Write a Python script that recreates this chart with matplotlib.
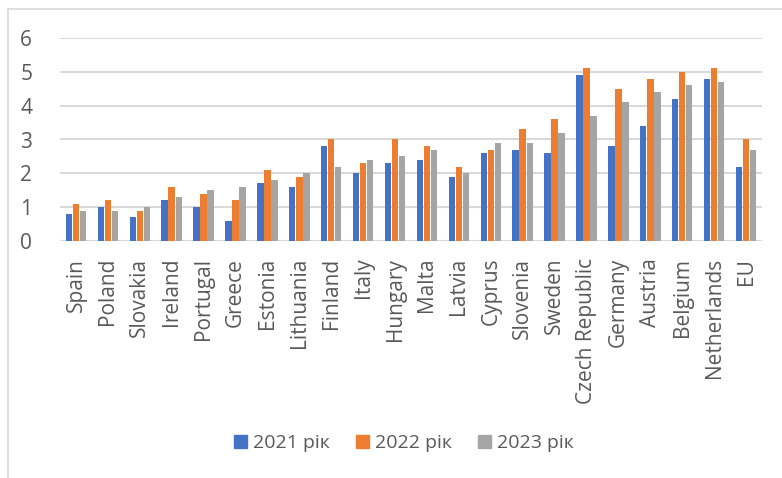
import matplotlib.pyplot as plt
import numpy as np
from matplotlib.lines import Line2D

plt.rcParams['font.family'] = ['Open Sans', 'DejaVu Sans']

countries = ["Spain", "Poland", "Slovakia", "Ireland", "Portugal", "Greece",
             "Estonia", "Lithuania", "Finland", "Italy", "Hungary", "Malta",
             "Latvia", "Cyprus", "Slovenia", "Sweden", "Czech Republic",
             "Germany", "Austria", "Belgium", "Netherlands", "EU"]
y2021 = [0.8, 1.0, 0.7, 1.2, 1.0, 0.6, 1.7, 1.6, 2.8, 2.0, 2.3, 2.4,
         1.9, 2.6, 2.7, 2.6, 4.9, 2.8, 3.4, 4.2, 4.8, 2.2]
y2022 = [1.1, 1.2, 0.9, 1.6, 1.4, 1.2, 2.1, 1.9, 3.0, 2.3, 3.0, 2.8,
         2.2, 2.7, 3.3, 3.6, 5.1, 4.5, 4.8, 5.0, 5.1, 3.0]
y2023 = [0.9, 0.9, 1.0, 1.3, 1.5, 1.6, 1.8, 2.0, 2.2, 2.4, 2.5, 2.7,
         2.0, 2.9, 2.9, 3.2, 3.7, 4.1, 4.4, 4.6, 4.7, 2.7]
series_names = ["2021 рік", "2022 рік", "2023 рік"]
colors = ["#4472C4", "#ED7D31", "#A5A5A5"]

fig = plt.figure(figsize=(7.82, 4.78), dpi=100)
ax = fig.add_axes([60 / 782, 1 - 241 / 478, 702 / 782, 203 / 478])

x = np.arange(len(countries))
w = 0.2
gap = 0.02
for i, (vals, c) in enumerate(zip([y2021, y2022, y2023], colors)):
    ax.bar(x + (i - 1) * (w + gap), vals, width=w, color=c, label=series_names[i], zorder=3)

ax.set_xlim(-0.5, len(countries) - 0.5)
ax.set_ylim(0, 6)
ax.set_yticks(range(7))
ax.yaxis.grid(True, color="#D9D9D9", linewidth=1.5, zorder=0)
for s in ax.spines.values():
    s.set_visible(False)
ax.tick_params(axis="both", length=0, colors="#595959")
ax.tick_params(axis="y", pad=20, labelsize=15)
ax.tick_params(axis="x", pad=12, labelsize=15)
ax.set_xticks(x)
ax.set_xticklabels(countries, rotation=90)
ax.axhline(0, color="#D9D9D9", linewidth=1.5, zorder=2)

handles = [plt.Rectangle((0, 0), 1, 1, color=c) for c in colors]
fig.legend(handles, series_names, loc="center", bbox_to_anchor=(404 / 782, 1 - 443 / 478),
           ncol=3, frameon=False, fontsize=14, handlelength=0.67, handleheight=0.67,
           handletextpad=0.3, columnspacing=1.34, labelcolor="#595959")

# outer chart border (only top and left visible)
fig.add_artist(Line2D([8 / 782, 1], [1 - 9 / 478, 1 - 9 / 478], transform=fig.transFigure,
                      color="#D9D9D9", linewidth=1.2))
fig.add_artist(Line2D([8 / 782, 8 / 782], [0, 1 - 9 / 478], transform=fig.transFigure,
                      color="#D9D9D9", linewidth=1.2))

fig.savefig("out.png", dpi=100)
